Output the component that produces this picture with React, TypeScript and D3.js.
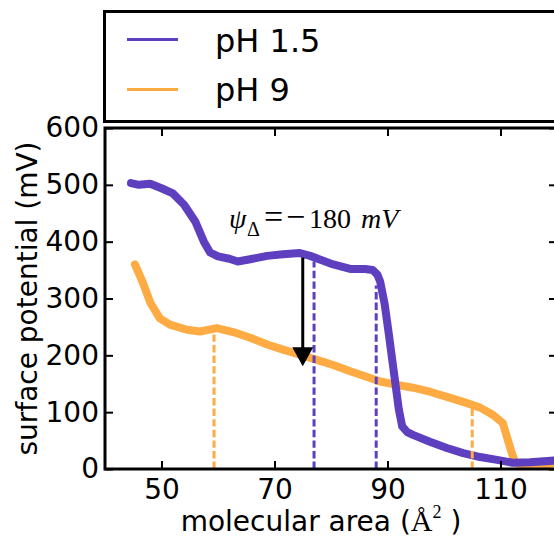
import React, { useEffect, useRef } from 'react';
import * as d3 from 'd3';

const width = 554;
const height = 537;
const margin = { top: 128, right: -3, bottom: 68, left: 105 };
const colors = ['#5d3fbf', '#ffab44'];
const seriesNames = ['pH 1.5', 'pH 9'];

// pH 1.5 isotherm (surface potential, mV)
const lowX = [44.6, 46, 48, 50, 52, 54, 56, 57.5, 58.6, 60, 62, 63.5, 65.7, 68.7, 71.5, 74.5, 76.3, 78.5, 80.4,
  83.4, 86, 87.4, 88.2, 88.7, 89.5, 90.2, 90.8, 91.4, 92, 92.6, 93.5, 94.5, 97.5, 100.5, 103.4, 106.4, 109.4,
  112.2, 115.2, 119.9];
const lowY = [503, 500, 502, 494, 485, 465, 435, 400, 381, 374, 370, 365, 369, 375, 378, 380, 375, 367, 360,
  352, 352, 350, 342, 330, 290, 240, 195, 150, 105, 75, 65, 60, 48, 37, 28, 21, 16, 11, 12, 15];

// pH 9 isotherm
const highX = [45.3, 46.7, 48, 49.7, 51.5, 54.5, 56.8, 59.8, 62.7, 65.7, 68.7, 71.5, 74.5, 77.5, 80.4, 83.4,
  86.4, 88.7, 91.7, 94.5, 97.5, 100.5, 103.4, 106.4, 108.7, 110.4, 111.3, 112, 112.6, 113.5, 116.5, 119.9];
const highY = [360, 328, 293, 265, 254, 245, 242, 248, 241, 231, 219, 210, 201, 192, 183, 172, 162, 154, 148,
  143, 136, 127, 118, 108, 95, 81, 51, 28, 12, 7, 7, 10];

// dashed guide lines
const lowDropX = [77, 88];
const lowDropY = [365, 323];
const highDropX = [59.3, 105];
const highDropY = [240, 108];

// arrow
const arrowX = 75;
const arrowFrom = 372;
const arrowTo = 181;

const xTicks = [50, 70, 90, 110];
const yTicks = [0, 100, 200, 300, 400, 500, 600];

const font = 'DejaVu Sans, sans-serif';
const serif = 'Liberation Serif, serif';

export default function App() {
  const xAxisRef = useRef<SVGGElement>(null);
  const yAxisRef = useRef<SVGGElement>(null);
  const topRef = useRef<SVGGElement>(null);
  const rightRef = useRef<SVGGElement>(null);

  const x = d3.scaleLinear().domain([40, 120]).range([margin.left, width - margin.right]);
  const y = d3.scaleLinear().domain([0, 600]).range([height - margin.bottom, margin.top]);
  const line = d3.line<[number, number]>().x(d => x(d[0])).y(d => y(d[1]));

  const lowPts = lowX.map((v, i) => [v, lowY[i]] as [number, number]);
  const highPts = highX.map((v, i) => [v, highY[i]] as [number, number]);

  useEffect(() => {
    const style = (g: any) => {
      g.select('.domain').remove();
      g.selectAll('.tick line').attr('stroke', '#000').attr('stroke-width', 2);
      g.selectAll('.tick text').attr('font-family', font).attr('font-size', 28).attr('fill', '#000');
    };
    d3.select(xAxisRef.current).call(d3.axisBottom(x).tickValues(xTicks).tickSizeInner(-8).tickSizeOuter(0).tickPadding(10) as any).call(style);
    d3.select(yAxisRef.current).call(d3.axisLeft(y).tickValues(yTicks).tickSizeInner(-8).tickSizeOuter(0).tickPadding(6) as any).call(style);
    d3.select(topRef.current).call(d3.axisTop(x).tickValues(xTicks).tickSizeInner(-8).tickSizeOuter(0).tickFormat(() => '') as any).call(style);
    d3.select(rightRef.current).call(d3.axisRight(y).tickValues(yTicks).tickSizeInner(-8).tickSizeOuter(0).tickFormat(() => '') as any).call(style);
  }, []);

  const x0 = x(40), x1 = x(120), y0 = y(0), y1 = y(600);

  return (
    <svg width={width} height={height} style={{ position: 'absolute', left: 0, top: 0, background: '#fff' }}>
      <defs>
        <clipPath id="plot">
          <rect x={x0} y={y1} width={x1 - x0} height={y0 - y1} />
        </clipPath>
      </defs>

      {/* legend */}
      <rect x={104.5} y={11.5} width={500} height={110} fill="#fff" stroke="#000" strokeWidth={3} />
      {seriesNames.map((name, i) => (
        <g key={name}>
          <line x1={127} x2={178} y1={39.5 + i * 50} y2={39.5 + i * 50} stroke={colors[i]} strokeWidth={3} />
          <text x={215} y={51.5 + i * 49} fontFamily={font} fontSize={32} fill="#000">{name}</text>
        </g>
      ))}

      <g clipPath="url(#plot)">
        <path d={line(highPts) || ''} fill="none" stroke={colors[1]} strokeWidth={8} strokeLinejoin="round" strokeLinecap="round" />
        <path d={line(lowPts) || ''} fill="none" stroke={colors[0]} strokeWidth={8} strokeLinejoin="round" strokeLinecap="round" />
        {lowDropX.map((v, i) => (
          <line key={'l' + i} x1={x(v)} x2={x(v)} y1={y(0)} y2={y(lowDropY[i])} stroke={colors[0]} strokeWidth={3} strokeDasharray="7.4 3.2" />
        ))}
        {highDropX.map((v, i) => (
          <line key={'h' + i} x1={x(v)} x2={x(v)} y1={y(0)} y2={y(highDropY[i])} stroke={colors[1]} strokeWidth={3} strokeDasharray="7.4 3.2" />
        ))}
        {/* arrow */}
        <line x1={x(arrowX)} x2={x(arrowX)} y1={y(arrowFrom)} y2={y(arrowTo) - 18} stroke="#000" strokeWidth={3} />
        <path d={`M${x(arrowX)},${y(arrowTo)} L${x(arrowX) - 10.5},${y(arrowTo) - 19} L${x(arrowX) + 10.5},${y(arrowTo) - 19} Z`} fill="#000" />
      </g>

      {/* annotation */}
      <text y={228} fontFamily={serif} fontSize={28} fill="#000">
        <tspan x={229} fontStyle="italic">ψ</tspan>
        <tspan x={247} fontSize={20} dy={8}>Δ</tspan>
        <tspan x={264} dy={-8} fontSize={34}>=</tspan>
        <tspan x={286} fontSize={34}>−</tspan>
        <tspan x={309}>180</tspan>
        <tspan x={361} fontStyle="italic">mV</tspan>
      </text>

      {/* spines */}
      <rect x={x0} y={y1} width={x1 - x0} height={y0 - y1} fill="none" stroke="#000" strokeWidth={3} />
      <g ref={xAxisRef} transform={`translate(0,${y0})`} />
      <g ref={yAxisRef} transform={`translate(${x0},0)`} />
      <g ref={topRef} transform={`translate(0,${y1})`} />
      <g ref={rightRef} transform={`translate(${x1},0)`} />

      {/* axis labels */}
      <text x={(x0 + x1) / 2 - 10} y={531} textAnchor="middle" fontFamily={font} fontSize={28} fill="#000">
        molecular area (<tspan fontFamily={serif} fontSize={30}>Å</tspan>
        <tspan fontFamily={serif} fontSize={18} dy={-13}>2</tspan>
        <tspan dy={13}> )</tspan>
      </text>
      <text transform={`translate(37,${(y0 + y1) / 2}) rotate(-90)`} textAnchor="middle" fontFamily={font} fontSize={28} fill="#000">
        surface potential (mV)
      </text>
    </svg>
  );
}
